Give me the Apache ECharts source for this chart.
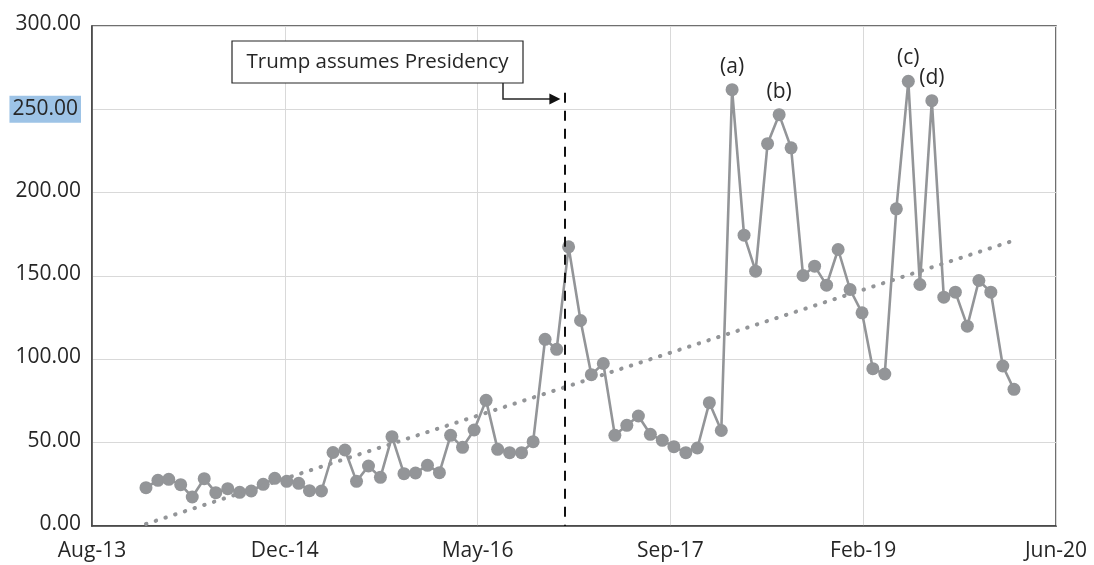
<!DOCTYPE html>
<html>
<head>
<meta charset="utf-8">
<script src="https://cdn.jsdelivr.net/npm/echarts@6/dist/echarts.min.js"></script>
<style>
  html, body { margin: 0; padding: 0; background: #fff; }
  #chart { width: 1094px; height: 565px; }
</style>
</head>
<body>
<div id="chart"></div>
<script>
// monthly observations, Jan-2014 .. Mar-2020
const months = [
  '2014-01','2014-02','2014-03','2014-04','2014-05','2014-06','2014-07','2014-08','2014-09','2014-10','2014-11','2014-12',
  '2015-01','2015-02','2015-03','2015-04','2015-05','2015-06','2015-07','2015-08','2015-09','2015-10','2015-11','2015-12',
  '2016-01','2016-02','2016-03','2016-04','2016-05','2016-06','2016-07','2016-08','2016-09','2016-10','2016-11','2016-12',
  '2017-01','2017-02','2017-03','2017-04','2017-05','2017-06','2017-07','2017-08','2017-09','2017-10','2017-11','2017-12',
  '2018-01','2018-02','2018-03','2018-04','2018-05','2018-06','2018-07','2018-08','2018-09','2018-10','2018-11','2018-12',
  '2019-01','2019-02','2019-03','2019-04','2019-05','2019-06','2019-07','2019-08','2019-09','2019-10','2019-11','2019-12',
  '2020-01','2020-02','2020-03'
]
const values = [
  23.0, 27.4, 28.0, 24.8, 17.4, 28.4, 20.0, 22.4, 20.2, 21.0, 25.0, 28.6,
  26.8, 25.6, 21.2, 21.0, 44.1, 45.6, 26.8, 36.0, 29.2, 53.6, 31.4, 31.8,
  36.4, 32.0, 54.4, 47.2, 57.6, 75.4, 46.0, 44.0, 44.0, 50.6, 112.0, 106.0,
  167.5, 123.3, 90.8, 97.5, 54.4, 60.4, 66.0, 55.0, 51.4, 47.6, 44.0, 46.8,
  74.0, 57.3, 261.8, 174.5, 152.9, 229.4, 246.8, 226.9, 150.3, 155.9, 144.5, 165.9,
  141.9, 127.9, 94.4, 91.2, 190.3, 266.8, 144.9, 255.2, 137.3, 140.3, 119.9, 147.3,
  140.3, 96.0, 82.0
]
// linear trendline end values
const trendStart = 1.2
const trendEnd = 171.3

// peak call-outs: index into values -> text
const peakNotes = [
  { idx: 50, text: '(a)' },
  { idx: 54, text: '(b)' },
  { idx: 65, text: '(c)' },
  { idx: 67, text: '(d)' }
]

const trumpDate = '2016-12-21'
const trumpTop = 260 // top of the dashed marker, in axis units
const trumpText = 'Trump assumes Presidency'

// x axis in Excel day serials, ticks every 500 days
const xMin = 41500
const xMax = 44000
const xStep = 500
const yTicks = [0, 50, 100, 150, 200, 250, 300]
const highlightTick = 250

const MON = ['Jan','Feb','Mar','Apr','May','Jun','Jul','Aug','Sep','Oct','Nov','Dec']
const toSerial = (s) => {
  const p = s.split('-').map(Number)
  return Date.UTC(p[0], p[1] - 1, p[2] || 1) / 86400000 + 25569
}
const fmtDate = (v) => {
  const d = new Date((v - 25569) * 86400000)
  return MON[d.getUTCMonth()] + '-' + String(d.getUTCFullYear()).slice(2)
}

const FONT = '"Open Sans", "Noto Sans", sans-serif'
const C = {
  series: '#939598',
  text: '#262626',
  grid: '#d9d9d9',
  border: '#404040',
  hl: '#9DC3E6'
}

const xs = months.map(toSerial)
const seriesData = values.map((v, i) => {
  const note = peakNotes.find((n) => n.idx === i)
  if (!note) return [xs[i], v]
  return {
    value: [xs[i], v],
    label: {
      show: true,
      position: 'top',
      distance: 6,
      formatter: note.text,
      color: C.text,
      fontFamily: FONT,
      fontSize: 21
    }
  }
})

const chart = echarts.init(document.getElementById('chart'), null, { renderer: 'canvas' })

chart.setOption({
  animation: false,
  backgroundColor: '#fff',
  grid: {
    left: 92, right: 38, top: 26, bottom: 39,
    show: true, borderColor: C.border, borderWidth: 1.5, backgroundColor: 'transparent'
  },
  xAxis: {
    type: 'value',
    min: xMin,
    max: xMax,
    interval: xStep,
    axisLine: { show: true, lineStyle: { color: C.border, width: 1.5 } },
    axisTick: { show: false },
    splitLine: { show: true, lineStyle: { color: C.grid, width: 1 } },
    axisLabel: {
      color: C.text, fontFamily: FONT, fontSize: 21, margin: 15,
      showMinLabel: true, showMaxLabel: true,
      formatter: fmtDate
    }
  },
  yAxis: {
    type: 'value',
    min: yTicks[0],
    max: yTicks[yTicks.length - 1],
    interval: yTicks[1] - yTicks[0],
    axisLine: { show: true, lineStyle: { color: C.border, width: 1.5 } },
    axisTick: { show: false },
    splitLine: { show: true, lineStyle: { color: C.grid, width: 1 } },
    axisLabel: {
      margin: 11,
      formatter: (v) => (v === highlightTick ? '{hl|' + v.toFixed(2) + '}' : '{n|' + v.toFixed(2) + '}'),
      rich: {
        n: { color: C.text, fontFamily: FONT, fontSize: 21, padding: [0, 0, 4, 0] },
        hl: { color: C.text, fontFamily: FONT, fontSize: 21, backgroundColor: C.hl, padding: [3, 3, 3, 3] }
      }
    }
  },
  series: [
    {
      type: 'line',
      data: seriesData,
      symbol: 'circle',
      symbolSize: 13,
      lineStyle: { color: C.series, width: 2.6 },
      itemStyle: { color: C.series },
      z: 3,
      markLine: {
        silent: true,
        symbol: 'none',
        label: { show: false },
        lineStyle: { color: '#111', width: 2, type: [10, 8] },
        data: [[
          { coord: [toSerial(trumpDate), trumpTop] },
          { coord: [toSerial(trumpDate), 0] }
        ]]
      }
    },
    {
      // dotted linear trendline
      type: 'line',
      data: [[xs[0], trendStart], [xs[xs.length - 1], trendEnd]],
      symbol: 'none',
      lineStyle: { color: C.series, width: 4, type: [0.5, 9.7], cap: 'round' },
      z: 4
    }
  ]
})

// call-out box + elbow arrow pointing at the dashed marker
const lineX = chart.convertToPixel({ xAxisIndex: 0 }, toSerial(trumpDate))
const tipX = lineX - 4
const elbowY = 99
chart.setOption({
  graphic: [
    {
      type: 'rect',
      shape: { x: 232, y: 41, width: 291, height: 42 },
      style: { fill: '#fff', stroke: '#262626', lineWidth: 1.2 }
    },
    {
      type: 'text',
      x: 232 + 291 / 2,
      y: 41 + 21,
      style: {
        text: trumpText, fill: C.text, font: '20.5px ' + FONT,
        align: 'center', verticalAlign: 'middle'
      }
    },
    {
      type: 'polyline',
      shape: { points: [[503, 83], [503, elbowY], [tipX - 9, elbowY]] },
      style: { stroke: '#262626', lineWidth: 1.5, fill: null }
    },
    {
      type: 'polygon',
      shape: { points: [[tipX - 11, elbowY - 5.5], [tipX, elbowY], [tipX - 11, elbowY + 5.5]] },
      style: { fill: '#111' }
    }
  ]
})
</script>
</body>
</html>
